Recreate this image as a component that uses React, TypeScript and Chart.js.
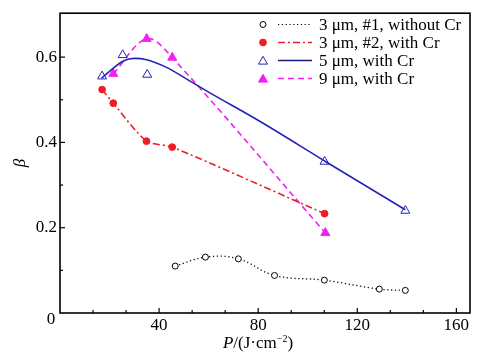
import { useEffect, useRef } from 'react';
import { Chart, registerables } from 'chart.js';

Chart.register(...registerables);

// Series 1: 3 µm, #1, without Cr
const s1X = [46.5, 58.7, 72.0, 86.6, 106.7, 128.9, 139.4];
const s1Y = [0.110, 0.131, 0.127, 0.088, 0.077, 0.056, 0.053];
// Series 2: 3 µm, #2, with Cr
const s2X = [17.0, 21.5, 34.9, 45.3, 106.8];
const s2Y = [0.524, 0.492, 0.403, 0.389, 0.233];
// Series 3: 5 µm, with Cr (points)
const s3X = [17.0, 25.3, 35.2, 106.8, 139.4];
const s3Y = [0.555, 0.605, 0.559, 0.355, 0.240];
// Series 3 fitted curve
const fitX = [16.8, 20.2, 25.6, 30.0, 35.0, 43.0, 51.0, 60.0, 80.8, 107.8, 139.4];
const fitY = [0.551, 0.568, 0.591, 0.597, 0.594, 0.576, 0.549, 0.518, 0.449, 0.353, 0.242];
// Series 4: 9 µm, with Cr
const s4X = [21.5, 35.0, 45.3, 107.1];
const s4Y = [0.561, 0.643, 0.599, 0.188];

const legendLabels = ['3 \u03bcm, #1, without Cr', '3 \u03bcm, #2, with Cr', '5 \u03bcm, with Cr', '9 \u03bcm, with Cr'];
const xTickLabels = [40, 80, 120, 160];
const xMinorTicks = [0, 13.333, 26.667, 40, 53.333, 66.667, 80, 93.333, 106.667, 120, 133.333, 146.667, 160];
const yTickLabels = [0.2, 0.4, 0.6];
const yMinorTicks = [0, 0.1, 0.2, 0.3, 0.4, 0.5, 0.6];

const FONT = "'Liberation Serif', 'Times New Roman', serif";
const RED = '#ee1c24';
const BLUE = '#2323b8';
const MAGENTA = '#f020f0';

const pts = (xs: number[], ys: number[]) => xs.map((x, i) => ({ x, y: ys[i] }));

function drawMarker(ctx: CanvasRenderingContext2D, kind: string, x: number, y: number, r: number, stroke: string, fill: string) {
  ctx.save();
  ctx.setLineDash([]);
  ctx.lineWidth = 1;
  ctx.strokeStyle = stroke;
  ctx.fillStyle = fill;
  ctx.beginPath();
  if (kind === 'circle') {
    ctx.arc(x, y, r, 0, Math.PI * 2);
  } else {
    let rad = 0;
    ctx.moveTo(x + Math.sin(rad) * r, y - Math.cos(rad) * r);
    rad += (2 * Math.PI) / 3;
    ctx.lineTo(x + Math.sin(rad) * r, y - Math.cos(rad) * r);
    rad += (2 * Math.PI) / 3;
    ctx.lineTo(x + Math.sin(rad) * r, y - Math.cos(rad) * r);
    ctx.closePath();
  }
  ctx.fill();
  ctx.stroke();
  ctx.restore();
}

const framePlugin = {
  id: 'framePlugin',
  afterDraw(chart: any) {
    const ctx: CanvasRenderingContext2D = chart.ctx;
    const { left, right, top, bottom } = chart.chartArea;
    const xs = chart.scales.x;
    const ys = chart.scales.y;
    ctx.save();
    // frame
    ctx.strokeStyle = '#000';
    ctx.lineWidth = 1.6;
    ctx.setLineDash([]);
    ctx.strokeRect(left, top, right - left, bottom - top);
    // inward ticks
    ctx.lineWidth = 1.2;
    xs.ticks.forEach((t: any) => {
      const v = t.value;
      if (v <= 0.01 || v >= xs.max - 1) return;
      const major = xTickLabels.some((l) => Math.abs(l - v) < 1e-2);
      const px = xs.getPixelForValue(v);
      ctx.beginPath();
      ctx.moveTo(px, bottom);
      ctx.lineTo(px, bottom - (major ? 5 : 3));
      ctx.stroke();
    });
    ys.ticks.forEach((t: any) => {
      const v = t.value;
      if (v <= 0.001 || v >= 0.69) return;
      const major = yTickLabels.some((l) => Math.abs(l - v) < 1e-6);
      const py = ys.getPixelForValue(v);
      ctx.beginPath();
      ctx.moveTo(left, py);
      ctx.lineTo(left + (major ? 5 : 3), py);
      ctx.stroke();
    });
    // shared origin label
    ctx.fillStyle = '#000';
    ctx.font = `17px ${FONT}`;
    ctx.textAlign = 'center';
    ctx.textBaseline = 'middle';
    ctx.fillText('0', left - 9, bottom + 7);
    // y title
    ctx.save();
    ctx.translate(21, (top + bottom) / 2);
    ctx.rotate(-Math.PI / 2);
    ctx.font = `italic 17px ${FONT}`;
    ctx.fillText('\u03b2', 0, 0);
    ctx.restore();
    // x title: P/(J·cm⁻²)
    const parts = [
      { t: 'P', f: `italic 17px ${FONT}`, dy: 0 },
      { t: '/(J\u00b7cm', f: `17px ${FONT}`, dy: 0 },
      { t: '\u22122', f: `10px ${FONT}`, dy: -6 },
      { t: ')', f: `17px ${FONT}`, dy: 0 },
    ];
    let total = 0;
    parts.forEach((p) => { ctx.font = p.f; total += ctx.measureText(p.t).width; });
    let cx = 258 - total / 2;
    ctx.textAlign = 'left';
    ctx.textBaseline = 'alphabetic';
    parts.forEach((p) => {
      ctx.font = p.f;
      ctx.fillText(p.t, cx, 348 + p.dy);
      cx += ctx.measureText(p.t).width;
    });
    // legend
    const rows = [24.5, 42.5, 60.5, 78.5];
    const styles = [
      { c: '#000', dash: [1.2, 2.6], kind: 'circle', fill: '#fff', r: 3, w: 1.2 },
      { c: RED, dash: [7, 3, 2, 3], kind: 'circle', fill: RED, r: 3.4, w: 1.6 },
      { c: '#1a1a80', dash: [], kind: 'triangle', fill: '#fff', r: 5.2, w: 1.6 },
      { c: MAGENTA, dash: [6, 4], kind: 'triangle', fill: MAGENTA, r: 5.2, w: 1.6 },
    ];
    styles.forEach((s, i) => {
      const y = rows[i];
      ctx.save();
      ctx.strokeStyle = s.c;
      ctx.lineWidth = s.w;
      ctx.setLineDash(s.dash);
      ctx.beginPath();
      ctx.moveTo(278, y);
      ctx.lineTo(312, y);
      ctx.stroke();
      ctx.restore();
      drawMarker(ctx, s.kind, 263, y + (s.kind === 'triangle' ? 1 : 0), s.r, i === 2 ? BLUE : s.c, s.fill);
      ctx.fillStyle = '#000';
      ctx.font = `17px ${FONT}`;
      ctx.textAlign = 'left';
      ctx.textBaseline = 'middle';
      ctx.fillText(legendLabels[i], 319, y + 1);
    });
    ctx.restore();
  },
};

export default function App() {
  const ref = useRef<HTMLCanvasElement | null>(null);
  useEffect(() => {
    document.body.style.margin = '0';
    const canvas = ref.current;
    if (!canvas) return;
    const chart = new Chart(canvas, {
      type: 'line',
      data: {
        datasets: [
          {
            label: 'fit',
            data: pts(fitX, fitY),
            borderColor: BLUE,
            borderWidth: 1.6,
            pointRadius: 0,
            cubicInterpolationMode: 'monotone',
            fill: false,
          },
          {
            label: legendLabels[0],
            data: pts(s1X, s1Y),
            borderColor: '#111',
            borderWidth: 1.3,
            borderDash: [1.3, 2.6],
            tension: 0.4,
            pointStyle: 'circle',
            pointRadius: 3,
            pointBorderWidth: 1,
            pointBorderColor: '#000',
            pointBackgroundColor: '#fff',
            fill: false,
          },
          {
            label: legendLabels[1],
            data: pts(s2X, s2Y),
            borderColor: RED,
            borderWidth: 1.6,
            borderDash: [7, 3, 2, 3],
            tension: 0.25,
            pointStyle: 'circle',
            pointRadius: 3.4,
            pointBorderWidth: 1,
            pointBorderColor: RED,
            pointBackgroundColor: RED,
            fill: false,
          },
          {
            label: legendLabels[2],
            data: pts(s3X, s3Y),
            showLine: false,
            borderColor: BLUE,
            pointStyle: 'triangle',
            pointRadius: 5.2,
            pointBorderWidth: 1,
            pointBorderColor: BLUE,
            pointBackgroundColor: '#fff',
          },
          {
            label: legendLabels[3],
            data: pts(s4X, s4Y),
            borderColor: MAGENTA,
            borderWidth: 1.6,
            borderDash: [6, 4],
            tension: 0.35,
            pointStyle: 'triangle',
            pointRadius: 5.2,
            pointBorderWidth: 1,
            pointBorderColor: MAGENTA,
            pointBackgroundColor: MAGENTA,
            fill: false,
          },
        ],
      },
      options: {
        responsive: false,
        animation: false,
        events: [],
        layout: { padding: { top: 8, right: 11, left: 0, bottom: 0 } },
        plugins: { legend: { display: false }, tooltip: { enabled: false }, title: { display: false } },
        scales: {
          x: {
            type: 'linear',
            min: 0,
            max: 165.5,
            grid: { display: false, drawTicks: false },
            border: { display: false },
            afterFit: (s: any) => { s.height = 45; },
            afterBuildTicks: (s: any) => { s.ticks = xMinorTicks.map((value) => ({ value })); },
            ticks: {
              autoSkip: false,
              maxRotation: 0,
              padding: 2,
              color: '#000',
              font: { family: FONT, size: 17 },
              callback: (v: any) => {
                const n = Number(v);
                const hit = xTickLabels.find((l) => Math.abs(l - n) < 1e-2);
                return hit !== undefined ? String(hit) : '';
              },
            },
          },
          y: {
            type: 'linear',
            min: 0,
            max: 0.703,
            grid: { display: false, drawTicks: false },
            border: { display: false },
            afterFit: (s: any) => { s.width = 60; },
            afterBuildTicks: (s: any) => { s.ticks = yMinorTicks.map((value) => ({ value })); },
            ticks: {
              autoSkip: false,
              padding: 3,
              color: '#000',
              font: { family: FONT, size: 17 },
              callback: (v: any) => {
                const n = Number(v);
                const hit = yTickLabels.find((l) => Math.abs(l - n) < 1e-6);
                return hit !== undefined ? hit.toFixed(1) : '';
              },
            },
          },
        },
      },
      plugins: [framePlugin],
    } as any);
    return () => chart.destroy();
  }, []);
  return <canvas ref={ref} width={481} height={358} style={{ display: 'block', width: 481, height: 358 }} />;
}
